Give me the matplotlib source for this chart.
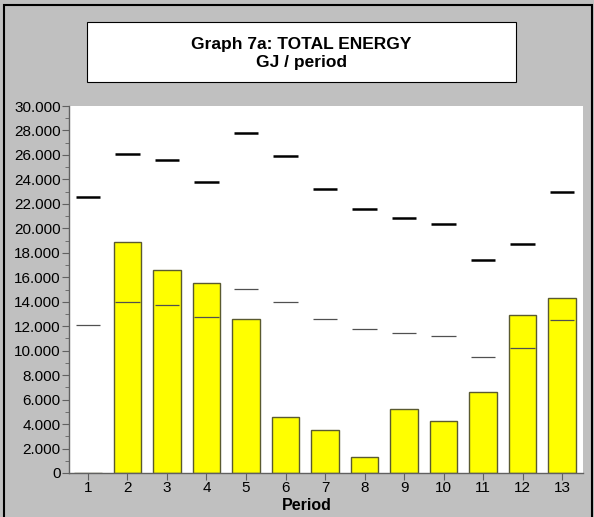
import matplotlib.pyplot as plt
import matplotlib.patches as mpatches
from matplotlib.ticker import MultipleLocator, FuncFormatter
import numpy as np

plt.rcParams["font.family"] = ["Liberation Sans", "DejaVu Sans"]

# Dados
periodos = list(range(1, 14))
total = [0, 18900, 16600, 15500, 12600, 4550, 3500, 1280, 5200, 4230, 6600, 12930, 14280]
media = [12120, 14000, 13730, 12780, 15020, 13980, 12560, 11770, 11420, 11170, 9510, 10190, 12500]
maximo = [22600, 26050, 25560, 23790, 27820, 25910, 23220, 21580, 20850, 20360, 17410, 18720, 22970]

W, H = 594, 517
fig = plt.figure(figsize=(W / 100, H / 100), dpi=100)
fig.patch.set_facecolor("#c0c0c0")

# moldura externa
fig.patches.append(mpatches.Rectangle((4 / W, -0.01), 588 / W, 1 - 5 / H + 0.01,
                                      transform=fig.transFigure, fill=False,
                                      edgecolor="black", linewidth=1.5))

# caixa do título
fig.patches.append(mpatches.Rectangle((87 / W, 1 - 82 / H), 429 / W, 60 / H,
                                      transform=fig.transFigure, facecolor="white",
                                      edgecolor="black", linewidth=0.8))
fig.text(301 / W, 1 - 44 / H, "Graph 7a: TOTAL ENERGY", ha="center", va="center",
         fontsize=12.5, fontweight="bold")
fig.text(301 / W, 1 - 63 / H, "GJ / period", ha="center", va="center",
         fontsize=12.5, fontweight="bold")

ax = fig.add_axes([69 / W, 1 - 473 / H, (583 - 69) / W, (473 - 106) / H])
ax.set_facecolor("white")

x = np.array(periodos)
ax.bar(x, total, width=0.7, color="#ffff00", edgecolor="#5a5a30", linewidth=1, zorder=2)
ax.hlines(media, x - 0.31, x + 0.31, color="#505050", linewidth=0.9, zorder=3)
ax.hlines(maximo, x - 0.31, x + 0.31, color="black", linewidth=1.8, zorder=3)

ax.set_xlim(0.52, 13.53)
ax.set_ylim(0, 30000)
ax.set_xticks(periodos)
ax.yaxis.set_major_locator(MultipleLocator(2000))
ax.yaxis.set_minor_locator(MultipleLocator(1000))
ax.yaxis.set_major_formatter(FuncFormatter(lambda v, p: "0" if v == 0 else f"{v:,.0f}".replace(",", ".")))

for s in ["top", "right"]:
    ax.spines[s].set_visible(False)
for s in ["left", "bottom"]:
    ax.spines[s].set_color("#606060")
    ax.spines[s].set_linewidth(1)
ax.spines["left"].set_zorder(4)
ax.spines["bottom"].set_zorder(4)

ax.tick_params(axis="y", which="major", length=5, color="#606060", labelsize=11, pad=1)
ax.tick_params(axis="y", which="minor", length=3, color="#606060")
ax.tick_params(axis="x", length=5, color="#606060", labelsize=11, pad=1)

fig.text(306.5 / W, 1 - 506 / H, "Period", ha="center", va="center",
         fontsize=11.5, fontweight="bold")

fig.savefig("out.png", dpi=100, facecolor=fig.get_facecolor())
